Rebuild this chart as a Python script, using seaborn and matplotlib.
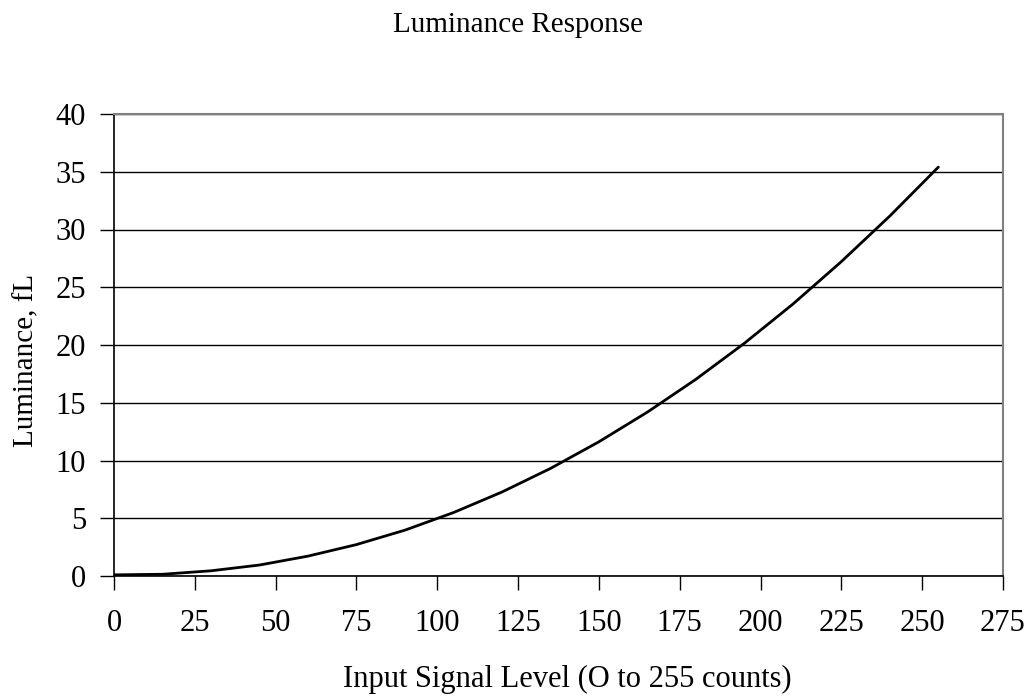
import matplotlib
matplotlib.use("Agg")
import matplotlib.pyplot as plt
import seaborn as sns
import pandas as pd

# Valores (contagens de entrada vs luminancia em fL)
contagens = [0, 15, 30, 45, 60, 75, 90, 105, 120, 135, 150, 165, 180, 195, 210, 225, 240, 255]
luminancia = [0.1, 0.15, 0.45, 0.95, 1.72, 2.72, 3.97, 5.49, 7.27, 9.31, 11.62, 14.19,
              17.03, 20.15, 23.54, 27.22, 31.17, 35.4]

x_ticks = [0, 25, 50, 75, 100, 125, 150, 175, 200, 225, 250, 275]
y_ticks = [0, 5, 10, 15, 20, 25, 30, 35, 40]

titulo = 'Luminance Response'
rotulo_x = 'Input Signal Level (O to 255 counts)'
rotulo_y = 'Luminance, fL'

sns.set_theme(style="white")
plt.rcParams['font.family'] = ['Liberation Serif', 'DejaVu Serif']
plt.rcParams['text.color'] = 'black'
plt.rcParams['xtick.color'] = 'black'
plt.rcParams['ytick.color'] = 'black'
plt.rcParams['axes.labelcolor'] = 'black'

df = pd.DataFrame({'contagens': contagens, 'luminancia': luminancia})

W, H = 1029, 696
fig = plt.figure(figsize=(W / 100, H / 100), dpi=100)
ax = fig.add_axes([114 / W, 1 - 576 / H, (1003 - 114) / W, (576 - 114) / H])

sns.lineplot(data=df, x='contagens', y='luminancia', color='black', linewidth=2, ax=ax)

ax.set_xlim(0, 275)
ax.set_ylim(0, 40)
ax.set_xticks(x_ticks)
ax.set_yticks(y_ticks)
ax.yaxis.grid(True, color='black', linewidth=1)
ax.xaxis.grid(False)

for lado in ['left', 'bottom']:
    ax.spines[lado].set_color('black')
    ax.spines[lado].set_linewidth(1.2)
for lado in ['top', 'right']:
    ax.spines[lado].set_color('#808080')
    ax.spines[lado].set_linewidth(1.5)

ax.tick_params(axis='both', direction='out', length=10, width=1, color='black',
               labelcolor='black', labelsize=22, bottom=True, left=True)
ax.tick_params(axis='x', pad=14)
ax.tick_params(axis='y', pad=10)

ax.set_xlabel('')
ax.set_ylabel('')

# Titulo e rotulos posicionados em pixels da figura
fig.text(518 / W, 1 - 32 / H, titulo, fontsize=21, ha='center', va='baseline', color='black')
fig.text(567 / W, 1 - 687 / H, rotulo_x, fontsize=22, ha='center', va='baseline', color='black')
fig.text(26 / W, 1 - 360 / H, rotulo_y, fontsize=21, ha='center', va='center', rotation=90,
         color='black')

fig.savefig('out.png', dpi=100)
